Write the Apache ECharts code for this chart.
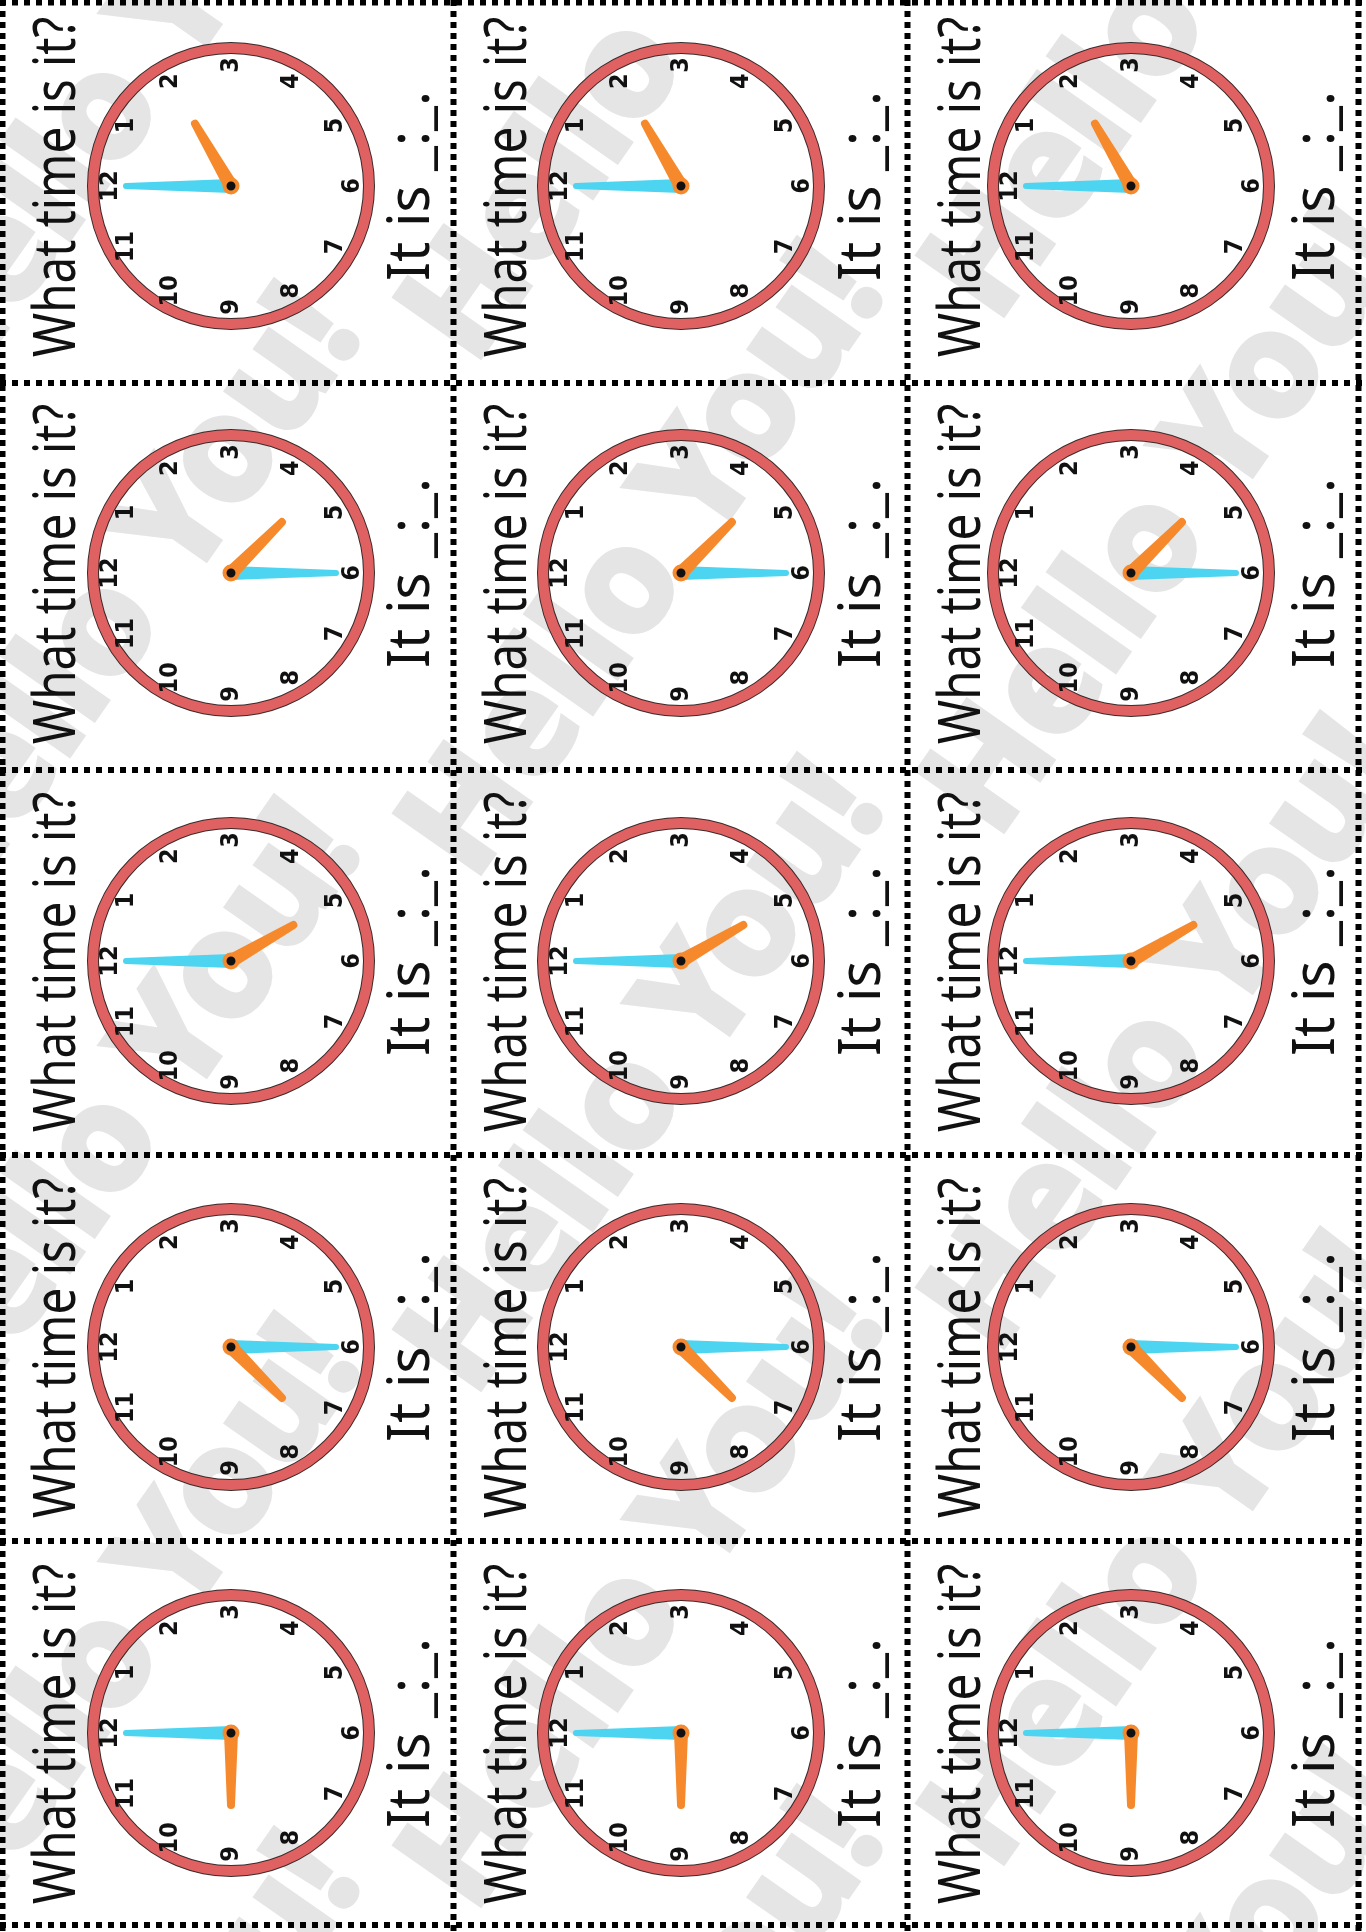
<!DOCTYPE html>
<html>
<head>
<meta charset="utf-8">
<title>What time is it?</title>
<script src="https://cdn.jsdelivr.net/npm/echarts@6/dist/echarts.min.js"></script>
<style>
  html, body { margin: 0; padding: 0; background: #fff; }
  #chart { width: 1366px; height: 1932px; }
</style>
</head>
<body>
<div id="chart"></div>
<script>
// clock times, one per row (the three columns repeat the row)
const hourValues = [2, 4, 5, 7, 9]
const minuteValues = [0, 30, 0, 30, 0]
// dial numbers, index = hour value on the 0..12 scale
const clockNumbers = ['12', '1', '2', '3', '4', '5', '6', '7', '8', '9', '10', '11']

const questionText = 'What time is it?'
const answerText = 'It is _:_.'
const watermarkText = 'Hello You!'

// page layout (cut lines and clock centres)
const lineXs = [2.5, 453.5, 907.5, 1358.5]
const lineYs = [2.5, 383, 770, 1155, 1541, 1925]
const clockXs = [231, 681, 1131]
const clockYs = [186, 573, 961, 1347, 1733]

const textFont = '"Noto Sans", "Open Sans", sans-serif'
const numberFont = '"Liberation Sans Narrow", "DejaVu Sans Condensed", Roboto, sans-serif'
const rimColor = '#e06161'
const minuteColor = '#4dd4f0'
const hourColor = '#f5892c'

// tapered hands, tip at the top of the box, base at the centre
const minuteIcon = 'path://M4,3A3,3,0,0,1,10,3L14,108L0,108Z'
const hourIcon = 'path://M3,4A4,4,0,0,1,11,4L14,76L0,76Z'

const measureCtx = document.createElement('canvas').getContext('2d')
function textWidth(text, font) {
  measureCtx.font = font
  return measureCtx.measureText(text).width
}

const chart = echarts.init(document.getElementById('chart'), null, { renderer: 'canvas' })

const graphics = []

// watermark, drawn under everything
for (let k = -1; k <= 3; k++) {
  for (let j = -1; j <= 4; j++) {
    graphics.push({
      type: 'text',
      z: 0,
      silent: true,
      x: 330 + 523 * k,
      y: 310 + 516 * j - 42 * k,
      rotation: 55 * Math.PI / 180,
      style: {
        text: watermarkText,
        font: 'bold 145px ' + textFont,
        fill: '#e5e5e5',
        stroke: '#e5e5e5',
        lineWidth: 6,
        lineJoin: 'round',
        align: 'right',
        verticalAlign: 'middle'
      }
    })
  }
}

// dotted cut lines
lineXs.forEach(x => {
  graphics.push({
    type: 'line',
    z: 1,
    silent: true,
    shape: { x1: x, y1: 0, x2: x, y2: 1932 },
    style: { stroke: '#000', lineWidth: 6, lineDash: [6, 5] }
  })
})
lineYs.forEach(y => {
  graphics.push({
    type: 'line',
    z: 1,
    silent: true,
    shape: { x1: 0, y1: y, x2: 1366, y2: y },
    style: { stroke: '#000', lineWidth: 6, lineDash: [6, 6] }
  })
})

const fontSize = 58
const labelFont = fontSize + 'px ' + textFont
const questionScale = 340 / textWidth(questionText, labelFont)
const answerScale = 190 / textWidth(answerText, labelFont)
const baselineShift = 0.28 * fontSize

const series = []

for (let r = 0; r < clockYs.length; r++) {
  for (let c = 0; c < clockXs.length; c++) {
    const center = [clockXs[c], clockYs[r]]

    // question and answer, written bottom to top
    graphics.push({
      type: 'text',
      z: 3,
      silent: true,
      x: lineXs[c] + 72 - baselineShift,
      y: clockYs[r] + 1,
      rotation: Math.PI / 2,
      scaleX: questionScale,
      style: { text: questionText, font: labelFont, fill: '#111', align: 'center', verticalAlign: 'middle' }
    })
    graphics.push({
      type: 'text',
      z: 3,
      silent: true,
      x: lineXs[c] + 426 - baselineShift,
      y: clockYs[r],
      rotation: Math.PI / 2,
      scaleX: answerScale,
      style: { text: answerText, font: labelFont, fill: '#111', align: 'center', verticalAlign: 'middle' }
    })

    const base = {
      type: 'gauge',
      center: center,
      startAngle: 180,
      endAngle: -180,
      splitLine: { show: false, length: 0, distance: 0 },
      axisTick: { show: false },
      title: { show: false },
      detail: { show: false },
      anchor: { show: false },
      progress: { show: false }
    }

    // dark outline of the rim
    series.push(Object.assign({}, base, {
      radius: 144,
      min: 0,
      max: 12,
      splitNumber: 12,
      axisLine: { lineStyle: { width: 12, color: [[1, '#3a2a2a']] } },
      axisLabel: { show: false },
      pointer: { show: false },
      data: [{ value: 0 }]
    }))

    // red rim and dial numbers
    series.push(Object.assign({}, base, {
      radius: 143,
      min: 0,
      max: 12,
      splitNumber: 12,
      axisLine: { lineStyle: { width: 10, color: [[1, rimColor]] } },
      axisLabel: {
        show: true,
        distance: 22,
        rotate: 90,
        color: '#111',
        fontSize: 25,
        fontWeight: 'bold',
        fontFamily: numberFont,
        formatter: v => (v === 12 ? '' : clockNumbers[v])
      },
      pointer: { show: false },
      data: [{ value: 0 }]
    }))

    // minute hand
    series.push(Object.assign({}, base, {
      radius: 143,
      min: 0,
      max: 60,
      axisLine: { show: false },
      axisLabel: { show: false },
      pointer: {
        show: true,
        icon: minuteIcon,
        length: 108,
        width: 14,
        keepAspect: false,
        itemStyle: { color: minuteColor }
      },
      data: [{ value: minuteValues[r] }]
    }))

    // hour hand with the centre pin
    series.push(Object.assign({}, base, {
      radius: 143,
      min: 0,
      max: 12,
      axisLine: { show: false },
      axisLabel: { show: false },
      pointer: {
        show: true,
        icon: hourIcon,
        length: 76,
        width: 14,
        keepAspect: false,
        itemStyle: { color: hourColor }
      },
      anchor: {
        show: true,
        showAbove: true,
        size: 13,
        itemStyle: { color: '#111', borderColor: hourColor, borderWidth: 4 }
      },
      data: [{ value: hourValues[r] + minuteValues[r] / 60 }]
    }))
  }
}

chart.setOption({
  animation: false,
  backgroundColor: '#fff',
  graphic: { elements: graphics },
  series: series
})
</script>
</body>
</html>
